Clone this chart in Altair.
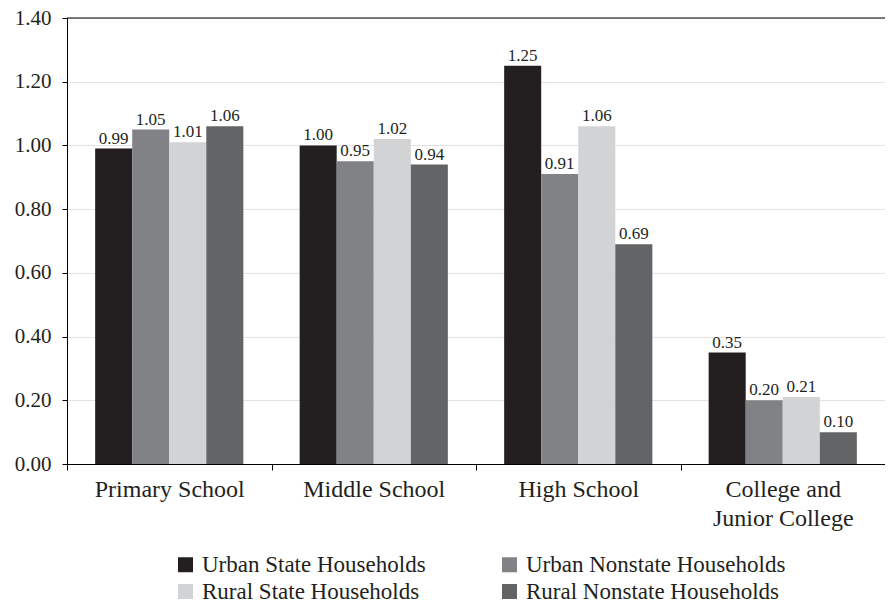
import altair as alt
import pandas as pd

levels = ["Primary School", "Middle School", "High School", "College and Junior College"]
series = ["Urban State Households", "Urban Nonstate Households",
          "Rural State Households", "Rural Nonstate Households"]
colors = ["#231f20", "#808285", "#d1d3d4", "#636466"]
values = {
    "Urban State Households": [0.99, 1.00, 1.25, 0.35],
    "Urban Nonstate Households": [1.05, 0.95, 0.91, 0.20],
    "Rural State Households": [1.01, 1.02, 1.06, 0.21],
    "Rural Nonstate Households": [1.06, 0.94, 0.69, 0.10],
}

rows = []
for s in series:
    for lvl, v in zip(levels, values[s]):
        rows.append({"level": lvl, "series": s, "value": v})
df = pd.DataFrame(rows)

legend_order = [series[0], series[2], series[1], series[3]]
legend_colors = [colors[0], colors[2], colors[1], colors[3]]

FONT = "Liberation Serif"

x = alt.X("level:N", sort=levels, title=None,
          scale=alt.Scale(paddingInner=0, paddingOuter=0),
          axis=alt.Axis(labelAngle=0, labelFontSize=24, labelFont=FONT, labelColor="#231f20",
                        domainColor="black", tickColor="black", tickSize=6, tickBand="extent",
                        labelPadding=7, labelLineHeight=29, grid=False,
                        labelExpr="datum.label == 'College and Junior College' ? ['College and', 'Junior College'] : datum.label"))
xo = alt.XOffset("series:N", sort=series, scale=alt.Scale(paddingOuter=0.76, paddingInner=0))
y = alt.Y("value:Q", title=None,
          scale=alt.Scale(domain=[0, 1.4]),
          axis=alt.Axis(values=[0, 0.2, 0.4, 0.6, 0.8, 1.0, 1.2, 1.4], format=".2f",
                        labelFontSize=21, labelFont=FONT, labelColor="#231f20",
                        domainColor="black", tickColor="black", tickSize=5, labelPadding=11,
                        gridColor="#e3e3e3", gridWidth=1))

base = alt.Chart(df)
bars = base.mark_bar().encode(
    x=x, xOffset=xo, y=y,
    color=alt.Color("series:N", title=None,
                    scale=alt.Scale(domain=legend_order, range=legend_colors),
                    legend=alt.Legend(orient="none", legendX=107, legendY=535, columns=2,
                                      symbolType="square", symbolSize=225, symbolStrokeWidth=0,
                                      labelFontSize=23, labelFont=FONT, labelColor="#231f20",
                                      columnPadding=72, rowPadding=3, labelOffset=5,
                                      labelLimit=400)),
)
labels = base.mark_text(baseline="bottom", dy=-1, fontSize=17, font=FONT, color="#231f20").encode(
    x=x, xOffset=xo, y=y, text=alt.Text("value:Q", format=".2f"),
)
top = alt.Chart(pd.DataFrame({"v": [1.4]})).mark_rule(color="black", strokeWidth=1).encode(
    y=alt.Y("v:Q", scale=alt.Scale(domain=[0, 1.4])),
)

chart = alt.layer(bars, labels, top).properties(
    width=818, height=446,
    autosize=alt.AutoSizeParams(type="none"),
    padding={"left": 59, "top": 10, "right": 0, "bottom": 142},
).configure(
    background="white", font=FONT,
).configure_view(strokeWidth=0)

chart.save("out.html", embed_options={"renderer": "svg", "actions": False})
